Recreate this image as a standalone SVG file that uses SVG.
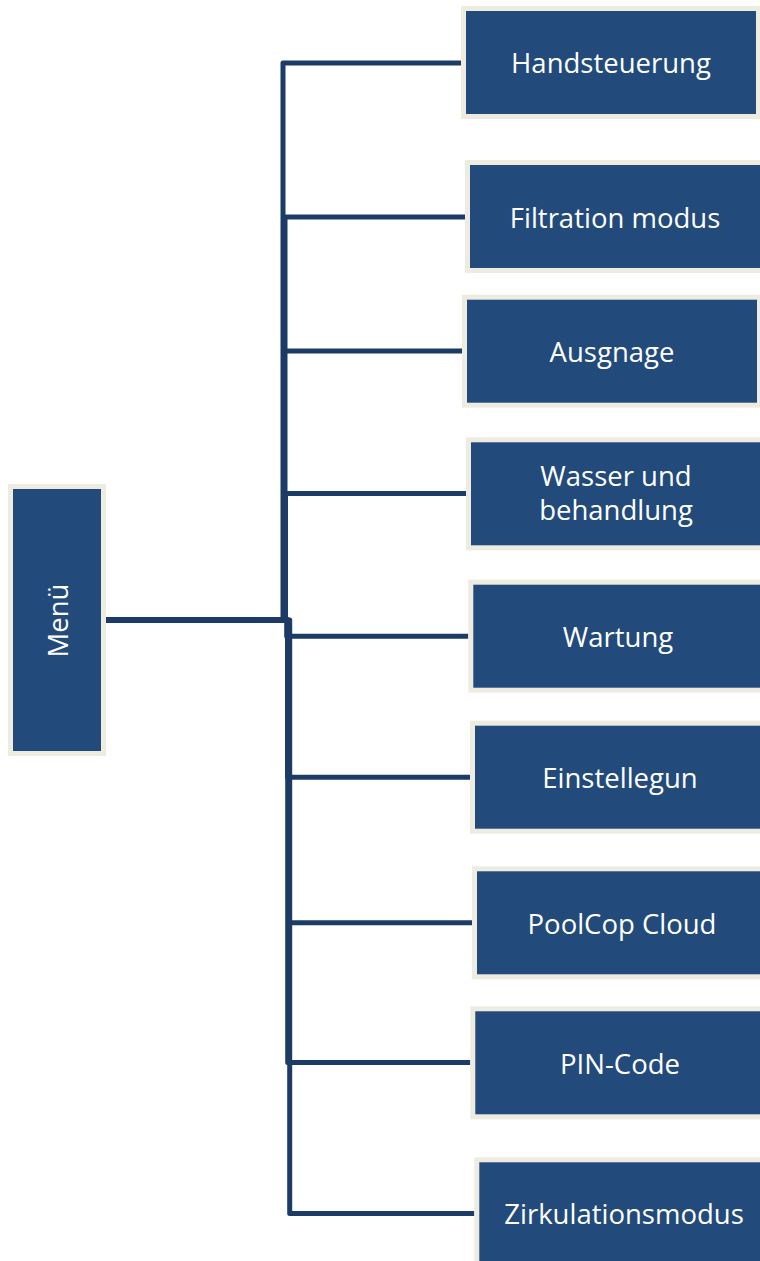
<svg xmlns="http://www.w3.org/2000/svg" width="760" height="1261" viewBox="0 0 760 1261">
<style>
.box{fill:#224a7b;stroke:#eeebe1;stroke-width:5}
.lbl{font-family:"Open Sans","Noto Sans",sans-serif;font-size:27.5px;fill:#ffffff;text-anchor:middle}
.con{fill:none;stroke:#1c3b66;stroke-width:5;stroke-linejoin:round}
</style>
<rect width="760" height="1261" fill="#ffffff"/>
<g id="connectors">
<path class="con" d="M105,620 H283 V63 H461"/>
<path class="con" d="M105,620 H285 V217 H465"/>
<path class="con" d="M105,620 H283.5 V351 H462"/>
<path class="con" d="M105,620 H285.5 V493.5 H466"/>
<path class="con" d="M105,620 H286.7 V636.3 H468.3"/>
<path class="con" d="M105,620 H287.5 V777.3 H470"/>
<path class="con" d="M105,620 H288.5 V922.8 H472"/>
<path class="con" d="M105,620 H287.7 V1062.5 H470.3"/>
<path class="con" d="M105,620 H289.7 V1213.5 H474.3"/>
</g>
<g id="menu">
<rect class="box" x="10.5" y="486.5" width="93" height="267"/>
<text class="lbl" transform="translate(68,620.5) rotate(-90)">Menü</text>
</g>
<g id="handsteuerung">
<rect class="box" x="463.5" y="8.5" width="295" height="108"/>
<text class="lbl" x="611" y="73">Handsteuerung</text>
</g>
<g id="filtration">
<rect class="box" x="467.5" y="162.5" width="295" height="108"/>
<text class="lbl" x="615" y="227.5">Filtration modus</text>
</g>
<g id="ausgnage">
<rect class="box" x="464.5" y="297.2" width="295" height="108"/>
<text class="lbl" x="612" y="361.7">Ausgnage</text>
</g>
<g id="wasser">
<rect class="box" x="468.5" y="439.8" width="295" height="108"/>
<text class="lbl" x="616" y="486">Wasser und</text>
<text class="lbl" x="616" y="520">behandlung</text>
</g>
<g id="wartung">
<rect class="box" x="470.8" y="582.2" width="295" height="108"/>
<text class="lbl" x="618" y="647.3">Wartung</text>
</g>
<g id="einstellegun">
<rect class="box" x="472.5" y="723.2" width="295" height="108"/>
<text class="lbl" x="620" y="788.3">Einstellegun</text>
</g>
<g id="poolcop">
<rect class="box" x="474.5" y="868.8" width="295" height="108"/>
<text class="lbl" x="622" y="934">PoolCop Cloud</text>
</g>
<g id="pincode">
<rect class="box" x="472.8" y="1008.8" width="295" height="108"/>
<text class="lbl" x="620" y="1073.5">PIN-Code</text>
</g>
<g id="zirkulation">
<rect class="box" x="476.8" y="1159.8" width="295" height="108"/>
<text class="lbl" x="624" y="1223.5">Zirkulationsmodus</text>
</g>
</svg>
